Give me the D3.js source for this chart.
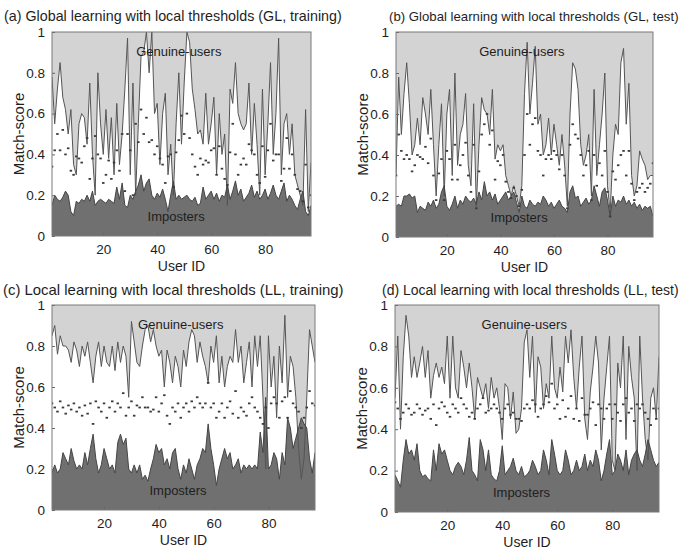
<!DOCTYPE html>
<html>
<head>
<meta charset="utf-8">
<script src="https://cdn.jsdelivr.net/npm/d3@7"></script>
<style>
  html, body { margin: 0; padding: 0; background: #ffffff; }
  svg { display: block; font-family: "Liberation Sans", Arial, sans-serif; }
</style>
</head>
<body>
<svg id="chart" width="692" height="554"></svg>
<script>
// User IDs on the x axis
const userIds = d3.range(1, 98);

const xTicks = [20, 40, 60, 80];
const yTicks = [0, 0.2, 0.4, 0.6, 0.8, 1];
const yTickLabels = ["0", "0.2", "0.4", "0.6", "0.8", "1"];

const panelTitles = [
  "(a) Global learning with local thresholds (GL, training)",
  "(b) Global learning with local thresholds (GL, test)",
  "(c) Local learning with local thresholds (LL, training)",
  "(d) Local learning with local thresholds (LL, test)"
];

// (a) GL, training: lowest genuine score, highest imposter score, threshold per user
const genuineGLTrain = [
  0.78,0.55,0.72,0.85,0.68,0.62,0.50,0.62,0.35,0.30,
  0.55,0.60,0.58,0.45,0.75,0.40,0.20,0.80,0.55,0.40,
  0.62,0.38,0.58,0.30,0.65,0.35,0.50,0.72,0.97,0.30,
  0.75,0.20,0.55,0.88,0.90,1.00,0.80,1.00,0.60,0.65,
  0.35,0.60,0.70,0.30,0.45,0.20,0.55,0.80,0.45,0.75,
  1.00,0.95,0.72,0.62,0.50,0.52,0.45,0.70,0.45,0.55,
  0.68,0.30,0.60,0.40,0.50,0.15,0.72,0.65,0.85,0.60,
  0.55,0.52,0.55,0.75,0.40,0.65,0.45,0.20,0.72,0.30,
  0.55,0.85,0.40,0.60,0.97,0.30,0.55,0.60,0.40,0.55,
  0.30,0.25,0.20,0.15,0.62,0.12,0.36
];
const imposterGLTrain = [
  0.15,0.20,0.18,0.17,0.19,0.22,0.20,0.12,0.10,0.17,
  0.16,0.18,0.17,0.20,0.17,0.22,0.15,0.17,0.18,0.17,
  0.16,0.18,0.17,0.16,0.24,0.18,0.26,0.15,0.14,0.20,
  0.18,0.22,0.25,0.30,0.22,0.26,0.28,0.20,0.18,0.21,
  0.19,0.23,0.18,0.12,0.20,0.27,0.18,0.20,0.18,0.19,
  0.20,0.18,0.17,0.19,0.15,0.16,0.24,0.18,0.20,0.22,
  0.18,0.21,0.17,0.20,0.19,0.25,0.18,0.22,0.27,0.20,
  0.23,0.17,0.19,0.21,0.25,0.19,0.22,0.18,0.20,0.23,
  0.18,0.21,0.25,0.20,0.18,0.22,0.26,0.17,0.20,0.18,
  0.15,0.13,0.18,0.22,0.12,0.10,0.15
];
const thresholdGLTrain = [
  0.34,0.42,0.50,0.42,0.52,0.40,0.43,0.32,0.30,0.39,
  0.38,0.36,0.44,0.48,0.28,0.38,0.49,0.40,0.38,0.26,
  0.30,0.37,0.28,0.36,0.42,0.32,0.50,0.22,0.50,0.42,
  0.20,0.55,0.46,0.62,0.50,0.58,0.46,0.47,0.40,0.44,
  0.38,0.35,0.26,0.39,0.40,0.24,0.41,0.47,0.59,0.50,
  0.60,0.48,0.40,0.34,0.30,0.38,0.35,0.37,0.36,0.42,
  0.43,0.30,0.44,0.33,0.28,0.25,0.41,0.55,0.40,0.30,
  0.35,0.38,0.35,0.45,0.42,0.40,0.30,0.26,0.44,0.29,
  0.42,0.55,0.37,0.40,0.40,0.27,0.33,0.48,0.33,0.40,
  0.30,0.23,0.22,0.17,0.35,0.14,0.20
];

// (b) GL, test
const genuineGLTest = [
  0.30,0.78,0.50,0.70,0.85,0.65,0.40,0.45,0.58,0.45,
  0.68,0.60,0.50,0.72,0.45,0.20,0.45,0.65,0.20,0.60,
  0.72,0.30,0.80,0.35,0.50,0.55,0.70,0.35,0.25,0.65,
  0.15,0.45,0.68,0.62,0.60,0.50,0.72,0.38,0.45,0.42,
  0.45,0.30,0.25,0.20,0.25,0.20,0.15,0.25,0.70,0.95,
  0.60,0.75,0.93,0.55,0.60,0.40,0.45,0.58,0.40,0.55,
  0.45,0.35,0.50,0.35,0.15,0.60,0.85,0.82,0.72,0.45,
  0.35,0.40,0.50,0.20,0.72,0.30,0.45,0.60,0.80,0.25,
  0.12,0.40,0.55,0.50,0.85,0.92,0.55,0.75,0.30,0.20,
  0.25,0.42,0.38,0.35,0.28,0.30,0.30
];
const imposterGLTest = [
  0.15,0.16,0.15,0.20,0.20,0.21,0.19,0.20,0.12,0.15,
  0.14,0.13,0.17,0.15,0.18,0.14,0.16,0.22,0.25,0.15,
  0.13,0.16,0.20,0.14,0.18,0.16,0.20,0.18,0.17,0.19,
  0.16,0.22,0.18,0.27,0.20,0.22,0.18,0.21,0.16,0.18,
  0.20,0.22,0.18,0.20,0.22,0.17,0.12,0.20,0.15,0.14,
  0.18,0.16,0.15,0.17,0.16,0.20,0.18,0.15,0.17,0.14,
  0.16,0.18,0.15,0.14,0.12,0.22,0.25,0.19,0.20,0.15,
  0.17,0.19,0.16,0.18,0.25,0.20,0.15,0.22,0.24,0.18,
  0.10,0.20,0.15,0.18,0.17,0.20,0.16,0.18,0.15,0.17,
  0.14,0.16,0.13,0.15,0.14,0.15,0.10
];
const thresholdGLTest = [
  0.30,0.50,0.42,0.38,0.40,0.38,0.32,0.35,0.40,0.39,
  0.38,0.44,0.36,0.48,0.30,0.18,0.31,0.38,0.18,0.42,
  0.38,0.28,0.45,0.28,0.35,0.40,0.46,0.30,0.22,0.45,
  0.14,0.32,0.50,0.55,0.60,0.45,0.52,0.28,0.37,0.35,
  0.40,0.27,0.22,0.19,0.24,0.20,0.15,0.23,0.40,0.60,
  0.45,0.55,0.58,0.42,0.40,0.30,0.38,0.40,0.38,0.42,
  0.40,0.33,0.40,0.30,0.14,0.45,0.55,0.50,0.48,0.40,
  0.30,0.35,0.42,0.18,0.40,0.25,0.36,0.30,0.42,0.22,
  0.10,0.32,0.28,0.35,0.40,0.42,0.30,0.42,0.26,0.18,
  0.22,0.24,0.26,0.22,0.24,0.26,0.36
];

// (c) LL, training
const genuineLLTrain = [
  0.85,0.90,0.76,0.85,0.80,0.80,0.78,0.72,0.82,0.78,
  0.70,0.80,0.75,0.82,0.72,0.62,0.75,0.82,0.70,0.80,
  0.72,0.70,0.80,0.68,0.82,0.72,0.80,0.75,0.55,0.92,
  0.82,0.72,0.70,0.80,0.88,0.90,0.82,0.88,0.80,0.75,
  0.78,0.60,0.78,0.72,0.62,0.75,0.70,0.60,0.78,0.70,
  0.82,0.88,0.85,0.72,0.82,0.75,0.70,0.62,0.80,0.72,
  0.85,0.62,0.75,0.60,0.70,0.75,0.72,0.88,0.72,0.80,
  0.62,0.72,0.82,0.60,0.85,0.70,0.85,0.55,0.20,0.85,
  0.60,0.75,0.45,0.80,0.62,0.95,0.55,0.75,0.70,0.55,
  0.30,0.15,0.25,0.55,0.88,0.80,0.72
];
const imposterLLTrain = [
  0.18,0.22,0.18,0.20,0.28,0.25,0.22,0.30,0.24,0.20,
  0.22,0.20,0.28,0.22,0.30,0.37,0.25,0.18,0.22,0.30,
  0.25,0.20,0.22,0.18,0.33,0.37,0.32,0.35,0.20,0.18,
  0.22,0.18,0.22,0.15,0.17,0.14,0.20,0.25,0.32,0.28,
  0.30,0.22,0.25,0.20,0.28,0.30,0.20,0.15,0.22,0.18,
  0.25,0.20,0.15,0.22,0.25,0.30,0.28,0.42,0.30,0.22,
  0.12,0.20,0.25,0.30,0.25,0.28,0.20,0.22,0.25,0.18,
  0.22,0.20,0.22,0.20,0.22,0.20,0.38,0.28,0.55,0.20,
  0.22,0.28,0.25,0.15,0.28,0.22,0.45,0.40,0.30,0.35,
  0.40,0.45,0.42,0.40,0.25,0.18,0.28
];
const thresholdLLTrain = [
  0.52,0.50,0.48,0.53,0.50,0.47,0.51,0.49,0.52,0.48,
  0.50,0.46,0.51,0.47,0.52,0.42,0.53,0.50,0.48,0.52,
  0.45,0.50,0.53,0.48,0.52,0.50,0.57,0.46,0.50,0.53,
  0.46,0.51,0.50,0.55,0.50,0.50,0.48,0.49,0.55,0.48,
  0.52,0.56,0.46,0.42,0.50,0.48,0.52,0.45,0.50,0.52,
  0.48,0.53,0.50,0.55,0.52,0.50,0.52,0.62,0.50,0.52,
  0.45,0.48,0.52,0.45,0.50,0.53,0.47,0.58,0.45,0.50,
  0.48,0.46,0.52,0.55,0.50,0.48,0.45,0.42,0.50,0.40,
  0.52,0.55,0.52,0.45,0.53,0.55,0.45,0.58,0.52,0.50,
  0.48,0.40,0.45,0.50,0.58,0.52,0.51
];

// (d) LL, test
const genuineLLTest = [
  0.55,0.85,0.40,0.75,0.95,0.85,0.65,0.75,0.65,0.72,
  0.80,0.65,0.78,0.55,0.66,0.72,0.65,0.70,0.62,0.85,
  0.55,0.85,0.60,0.55,0.78,0.70,0.60,0.72,0.60,0.45,
  0.65,0.60,0.55,0.62,0.50,0.65,0.55,0.60,0.50,0.35,
  0.62,0.60,0.45,0.58,0.38,0.40,0.50,0.82,0.88,0.65,
  0.85,0.48,0.75,0.70,0.50,0.62,0.55,0.85,0.60,0.55,
  0.70,0.58,0.85,0.72,0.88,0.65,0.50,0.70,0.85,0.45,
  0.35,0.58,0.70,0.85,0.72,0.30,0.55,0.70,0.85,0.25,
  0.20,0.72,0.60,0.85,0.35,0.80,0.65,0.55,0.20,0.85,
  0.55,0.35,0.25,0.55,0.60,0.45,0.75
];
const imposterLLTest = [
  0.18,0.15,0.12,0.25,0.35,0.28,0.30,0.25,0.33,0.20,
  0.17,0.18,0.16,0.15,0.30,0.20,0.33,0.28,0.30,0.25,
  0.20,0.18,0.22,0.24,0.22,0.18,0.25,0.36,0.20,0.18,
  0.15,0.35,0.30,0.20,0.30,0.18,0.16,0.15,0.20,0.32,
  0.18,0.20,0.22,0.26,0.20,0.18,0.22,0.17,0.18,0.20,
  0.25,0.22,0.18,0.20,0.30,0.25,0.18,0.35,0.28,0.20,
  0.18,0.20,0.30,0.25,0.18,0.20,0.25,0.20,0.22,0.28,
  0.20,0.25,0.22,0.30,0.25,0.15,0.20,0.28,0.35,0.18,
  0.20,0.28,0.25,0.20,0.30,0.18,0.25,0.28,0.30,0.25,
  0.22,0.28,0.35,0.30,0.25,0.22,0.24
];
const thresholdLLTest = [
  0.53,0.50,0.45,0.48,0.52,0.50,0.47,0.48,0.52,0.50,
  0.47,0.49,0.50,0.45,0.52,0.42,0.50,0.53,0.51,0.48,
  0.46,0.52,0.50,0.48,0.55,0.52,0.50,0.46,0.48,0.45,
  0.50,0.52,0.55,0.48,0.49,0.50,0.52,0.50,0.48,0.45,
  0.50,0.52,0.47,0.48,0.45,0.45,0.44,0.50,0.52,0.50,
  0.54,0.52,0.46,0.50,0.52,0.56,0.53,0.62,0.50,0.52,
  0.45,0.54,0.46,0.50,0.56,0.45,0.50,0.44,0.55,0.47,
  0.47,0.50,0.53,0.42,0.52,0.50,0.45,0.50,0.52,0.45,
  0.52,0.48,0.44,0.52,0.55,0.48,0.50,0.44,0.52,0.50,
  0.52,0.48,0.45,0.42,0.50,0.45,0.50
];

// Panel placement (plot boxes, title start and span) and the series each one draws
const panels = [
  { title: panelTitles[0], gen: genuineGLTrain, imp: imposterGLTrain, thr: thresholdGLTrain,
    box: { x: 52, y: 32, w: 259, h: 204 }, titleX: 4, titleY: 21, titleW: 338 },
  { title: panelTitles[1], gen: genuineGLTest, imp: imposterGLTest, thr: thresholdGLTest,
    box: { x: 396, y: 32, w: 257, h: 205 }, titleX: 389, titleY: 21, titleW: 290 },
  { title: panelTitles[2], gen: genuineLLTrain, imp: imposterLLTrain, thr: thresholdLLTrain,
    box: { x: 52, y: 305, w: 263, h: 205 }, titleX: 3, titleY: 295, titleW: 341 },
  { title: panelTitles[3], gen: genuineLLTest, imp: imposterLLTest, thr: thresholdLLTest,
    box: { x: 395, y: 305, w: 264, h: 207 }, titleX: 382, titleY: 295, titleW: 297 }
];

const svg = d3.select("#chart");
const textColor = "#1e1e1e";
const lightFill = "#d3d3d3";
const darkFill = "#707070";

panels.forEach((p, idx) => {
  const b = p.box;
  const x = d3.scaleLinear().domain([1, 97]).range([b.x, b.x + b.w]);
  const y = d3.scaleLinear().domain([0, 1]).range([b.y + b.h, b.y]);

  const clipId = "clip" + idx;
  svg.append("clipPath").attr("id", clipId)
    .append("rect").attr("x", b.x).attr("y", b.y).attr("width", b.w).attr("height", b.h);

  const g = svg.append("g");
  const plot = g.append("g").attr("clip-path", `url(#${clipId})`);

  // white background between the two bands
  plot.append("rect").attr("x", b.x).attr("y", b.y).attr("width", b.w).attr("height", b.h)
    .attr("fill", "#ffffff");

  // genuine-user band: from the lowest genuine score up to 1
  const genArea = d3.area()
    .x((d, i) => x(userIds[i]))
    .y0(y(1))
    .y1(d => y(d));
  plot.append("path").datum(p.gen).attr("d", genArea).attr("fill", lightFill);

  // imposter band: from 0 up to the highest imposter score
  const impArea = d3.area()
    .x((d, i) => x(userIds[i]))
    .y0(y(0))
    .y1(d => y(d));
  plot.append("path").datum(p.imp).attr("d", impArea).attr("fill", darkFill);

  const line = d3.line().x((d, i) => x(userIds[i])).y(d => y(d));
  plot.append("path").datum(p.gen).attr("d", line)
    .attr("fill", "none").attr("stroke", "#555555").attr("stroke-width", 1);
  plot.append("path").datum(p.imp).attr("d", line)
    .attr("fill", "none").attr("stroke", "#454545").attr("stroke-width", 1);

  // per-user decision thresholds
  plot.selectAll("rect.thr").data(p.thr).enter().append("rect")
    .attr("class", "thr")
    .attr("x", (d, i) => x(userIds[i]) - 1.25)
    .attr("y", d => y(d) - 0.9)
    .attr("width", 2.5).attr("height", 1.8)
    .attr("fill", "#3a3a3a");

  // band labels
  plot.append("text").attr("x", x(48)).attr("y", y(0.9))
    .attr("text-anchor", "middle").attr("dominant-baseline", "middle")
    .attr("font-size", 13).attr("fill", textColor).text("Genuine-users");
  plot.append("text").attr("x", x(47)).attr("y", y(0.09))
    .attr("text-anchor", "middle").attr("dominant-baseline", "middle")
    .attr("font-size", 13).attr("fill", textColor).text("Imposters");

  // axes
  const xAxis = d3.axisBottom(x).tickValues(xTicks).tickSize(-3).tickPadding(8)
    .tickFormat(d3.format("d"));
  const yAxis = d3.axisLeft(y).tickValues(yTicks).tickSize(-3).tickPadding(7)
    .tickFormat((d, i) => yTickLabels[i]);

  const gx = g.append("g").attr("transform", `translate(0,${b.y + b.h})`).call(xAxis);
  const gy = g.append("g").attr("transform", `translate(${b.x},0)`).call(yAxis);
  [gx, gy].forEach(a => {
    a.select(".domain").remove();
    a.selectAll(".tick line").attr("stroke", "#666");
    a.selectAll(".tick text").attr("font-size", 13.5).attr("fill", textColor)
      .attr("font-family", "Liberation Sans, Arial, sans-serif");
  });

  // plot frame
  g.append("rect").attr("x", b.x).attr("y", b.y).attr("width", b.w).attr("height", b.h)
    .attr("fill", "none").attr("stroke", "#7a7a7a").attr("stroke-width", 1);

  // panel title, sized so it spans its allotted width
  const title = g.append("text").attr("x", p.titleX).attr("y", p.titleY)
    .attr("font-size", 13).attr("fill", textColor).text(p.title);
  const measured = title.node().getComputedTextLength();
  if (measured > 0) title.attr("font-size", 13 * p.titleW / measured);

  g.append("text").attr("x", b.x + b.w / 2).attr("y", b.y + b.h + 35)
    .attr("text-anchor", "middle").attr("font-size", 14).attr("fill", textColor).text("User ID");
  g.append("text")
    .attr("transform", `translate(${b.x - 28},${b.y + b.h / 2}) rotate(-90)`)
    .attr("text-anchor", "middle").attr("font-size", 15).attr("fill", textColor).text("Match-score");
});
</script>
</body>
</html>
